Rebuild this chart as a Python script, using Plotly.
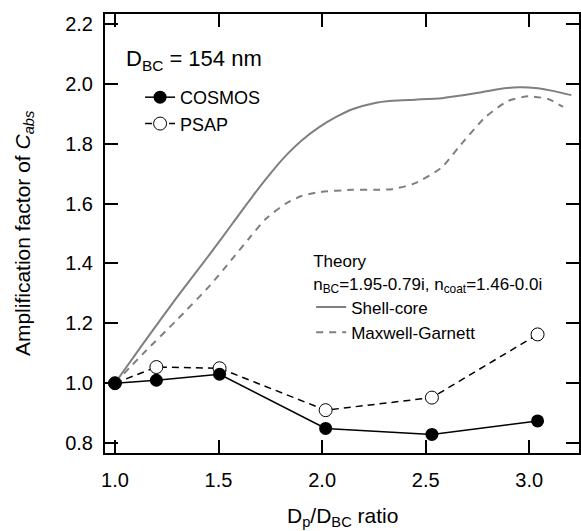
import plotly.graph_objects as go

# Measured data
ratio = [1.0, 1.2, 1.505, 2.017, 2.53, 3.04]
cosmos = [1.0, 1.01, 1.03, 0.849, 0.829, 0.874]
psap = [1.0, 1.054, 1.05, 0.91, 0.952, 1.163]

# Theory curves
shell_x = [1.0, 1.136, 1.297, 1.457, 1.569, 1.665, 1.75, 1.825, 1.9, 1.986, 2.07, 2.146, 2.25,
           2.338, 2.45, 2.578, 2.739, 2.85, 2.95, 3.027, 3.1, 3.203]
shell_y = [1.0, 1.132, 1.285, 1.43, 1.535, 1.625, 1.70, 1.76, 1.81, 1.855, 1.89, 1.915, 1.935,
           1.943, 1.947, 1.952, 1.968, 1.982, 1.988, 1.986, 1.978, 1.962]
mg_x = [1.0, 1.136, 1.297, 1.457, 1.56, 1.649, 1.73, 1.825, 1.9, 1.986, 2.146, 2.25, 2.338,
        2.45, 2.578, 2.659, 2.787, 2.899, 2.995, 3.091, 3.163]
mg_y = [1.0, 1.099, 1.21, 1.325, 1.41, 1.485, 1.55, 1.60, 1.625, 1.638, 1.646, 1.646, 1.648,
        1.668, 1.721, 1.788, 1.888, 1.943, 1.958, 1.949, 1.923]

x_ticks = [1.0, 1.5, 2.0, 2.5, 3.0]
x_ticklabels = ["1.0", "1.5", "2.0", "2.5", "3.0"]
y_ticks = [0.8, 1.0, 1.2, 1.4, 1.6, 1.8, 2.0, 2.2]
y_ticklabels = ["0.8", "1.0", "1.2", "1.4", "1.6", "1.8", "2.0", "2.2"]

FONT = "Liberation Sans, Arial, Helvetica, sans-serif"
GREY = "#7f7f7f"

fig = go.Figure()

fig.add_trace(go.Scatter(
    x=shell_x, y=shell_y, mode="lines", name="Shell-core",
    line=dict(color=GREY, width=2, shape="spline", smoothing=0.6),
    legend="legend2"))
fig.add_trace(go.Scatter(
    x=mg_x, y=mg_y, mode="lines", name="Maxwell-Garnett",
    line=dict(color=GREY, width=2, dash="7px,6px", shape="spline", smoothing=0.6),
    legend="legend2"))

fig.add_trace(go.Scatter(
    x=ratio, y=psap, mode="lines+markers", name="PSAP",
    line=dict(color="black", width=1.5, dash="7px,5px"),
    marker=dict(symbol="circle", size=13, color="white", line=dict(color="black", width=1)),
    legend="legend"))
fig.add_trace(go.Scatter(
    x=ratio, y=cosmos, mode="lines+markers", name="COSMOS",
    line=dict(color="black", width=1.5),
    marker=dict(symbol="circle", size=13, color="black"),
    legend="legend"))

axis_common = dict(
    showline=True, linecolor="black", linewidth=2, mirror="ticks",
    ticks="inside", ticklen=13, tickwidth=2, tickcolor="black",
    showgrid=False, zeroline=False,
    tickfont=dict(family=FONT, size=20, color="black"),
)

fig.update_layout(
    width=581, height=531,
    margin=dict(l=105, r=0, t=14, b=78),
    paper_bgcolor="white", plot_bgcolor="white",
    font=dict(family=FONT, size=18, color="black"),
    xaxis=dict(range=[0.952, 3.24], tickvals=x_ticks, ticktext=x_ticklabels,
               ticklabelstandoff=8, **axis_common),
    yaxis=dict(range=[0.767, 2.233], tickvals=y_ticks, ticktext=y_ticklabels,
               ticklabelstandoff=6, **axis_common),
    legend=dict(x=0.074, y=0.852, xanchor="left", yanchor="top",
                bgcolor="rgba(0,0,0,0)", traceorder="reversed",
                font=dict(family=FONT, size=18, color="black"),
                tracegroupgap=0, itemwidth=30),
    legend2=dict(x=0.435, y=0.473, xanchor="left", yanchor="top",
                 bgcolor="rgba(0,0,0,0)",
                 title=dict(text="Theory<br>n<sub>BC</sub>=1.95-0.79i, n<sub>coat</sub>=1.46-0.0i",
                            font=dict(family=FONT, size=17, color="black")),
                 font=dict(family=FONT, size=17, color="black"),
                 itemwidth=30),
    showlegend=True,
)

fig.add_annotation(
    text="D<sub>BC</sub> = 154 nm", xref="paper", yref="paper",
    x=0.04, y=0.895, xanchor="left", yanchor="middle", showarrow=False,
    font=dict(family=FONT, size=22, color="black"))

fig.add_annotation(
    text="Amplification factor of <i>C</i><sub><i>abs</i></sub>",
    xref="paper", yref="paper", x=-0.172, y=0.502, textangle=-90,
    xanchor="center", yanchor="middle", showarrow=False,
    font=dict(family=FONT, size=21, color="black"))

fig.add_annotation(
    text="D<sub>p</sub>/D<sub>BC</sub> ratio",
    xref="paper", yref="paper", x=0.5, y=-0.112,
    xanchor="center", yanchor="top", showarrow=False,
    font=dict(family=FONT, size=21, color="black"))

fig.write_html("out.html")
